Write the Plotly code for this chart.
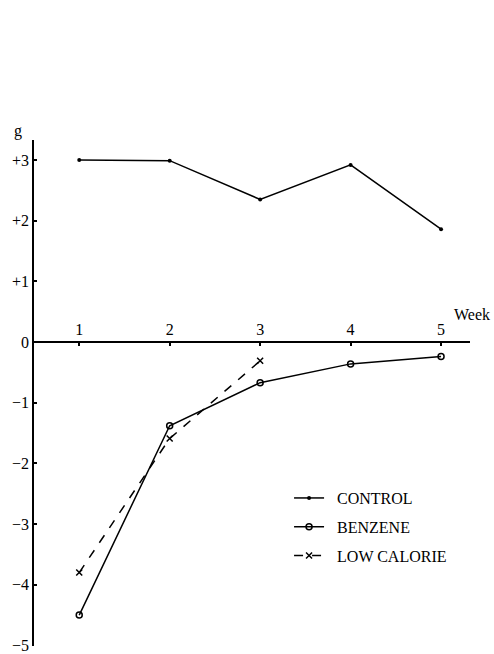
import plotly.graph_objects as go

# Weekly weight change (g) per group
weeks = [1, 2, 3, 4, 5]
control = [3.0, 2.99, 2.35, 2.92, 1.86]
benzene = [-4.50, -1.38, -0.67, -0.36, -0.24]
low_cal_weeks = [1, 2, 3]
low_calorie = [-3.80, -1.59, -0.31]

y_ticks = [3, 2, 1, 0, -1, -2, -3, -4, -5]
y_labels = ["+3", "+2", "+1", "0", "−1", "−2", "−3", "−4", "−5"]
week_labels = ["1", "2", "3", "4", "5"]

Y_MIN, Y_MAX = -5.01, 3.33
X_MIN, X_MAX = 0.5, 5.32
SERIF = "Liberation Serif"
GAP = "\u2002"  # spacing between legend sample and its label

fig = go.Figure()

fig.add_trace(go.Scatter(
    x=weeks, y=control, name=GAP + "CONTROL", mode="lines+markers",
    line=dict(color="black", width=1.5),
    marker=dict(symbol="circle", size=4, color="black"),
    legendgroup="c",
))
fig.add_trace(go.Scatter(
    x=weeks, y=benzene, name=GAP + "BENZENE", mode="lines+markers",
    line=dict(color="black", width=1.5),
    marker=dict(symbol="circle-open", size=6, color="black", line=dict(width=1.5)),
    legendgroup="b",
))
fig.add_trace(go.Scatter(
    x=low_cal_weeks, y=low_calorie, name=GAP + "LOW CALORIE", mode="lines+markers",
    line=dict(color="black", width=1.5, dash="dash"),
    marker=dict(symbol="x-thin-open", size=6, color="black", line=dict(width=1.5, color="black")),
    legendgroup="l",
))

zero_pos = (0 - Y_MIN) / (Y_MAX - Y_MIN)

fig.update_layout(
    width=494, height=654,
    margin=dict(l=34, r=494 - 34 - (X_MAX - X_MIN) * 90.5, t=140, b=8),
    paper_bgcolor="white", plot_bgcolor="white",
    font=dict(family=SERIF, color="black", size=16),
    showlegend=True,
    legend=dict(
        x=0.585, y=0.326, xanchor="left", yanchor="top",
        bgcolor="rgba(0,0,0,0)", font=dict(family=SERIF, size=16),
        tracegroupgap=5,
    ),
    xaxis=dict(
        range=[X_MIN, X_MAX], anchor="free", position=zero_pos, side="top",
        showline=True, linecolor="black", linewidth=1.5,
        showgrid=False, zeroline=False, automargin=False,
        tickvals=weeks, ticktext=week_labels,
        ticks="inside", ticklen=3, tickwidth=2, tickcolor="black",
        tickfont=dict(family=SERIF, size=16),
    ),
    yaxis=dict(
        range=[Y_MIN, Y_MAX], showline=True, linecolor="black", linewidth=1.5,
        showgrid=False, zeroline=False, automargin=False,
        tickvals=y_ticks, ticktext=y_labels,
        ticks="inside", ticklen=3, tickwidth=1.5, tickcolor="black",
        tickfont=dict(family=SERIF, size=16),
    ),
    annotations=[
        dict(text="g", xref="paper", yref="paper", x=-0.036, y=1.018,
             xanchor="center", yanchor="middle", showarrow=False,
             font=dict(family=SERIF, size=16)),
        dict(text="Week", xref="paper", yref="y", x=0.958, y=0.45,
             xanchor="left", yanchor="middle", showarrow=False,
             font=dict(family=SERIF, size=16)),
    ],
)

fig.write_html("out.html")
